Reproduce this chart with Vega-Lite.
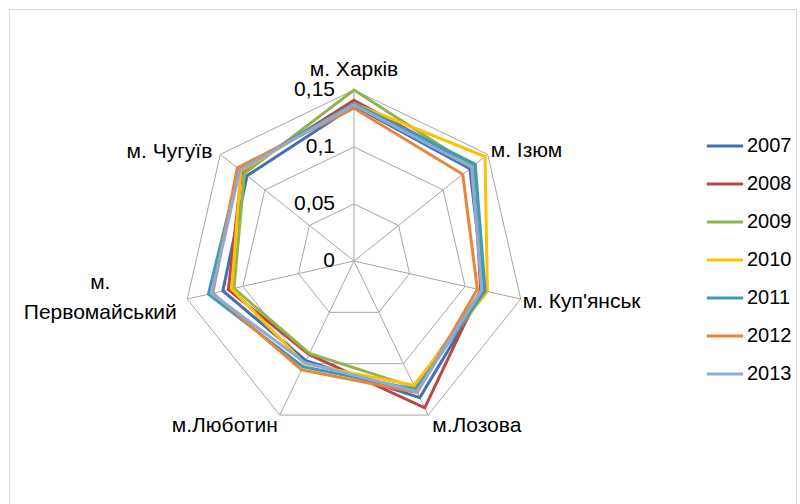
{
  "$schema": "https://vega.github.io/schema/vega-lite/v6.json",
  "width": 787,
  "height": 495,
  "padding": {"left": 9, "top": 9, "right": 4, "bottom": 0},
  "autosize": "none",
  "config": {"view": {"stroke": "#d9d9d9", "strokeWidth": 1}, "font": "Liberation Sans"},
  "datasets": {
    "axes": [
      {"idx": 0, "city": "м. Харків"},
      {"idx": 1, "city": "м. Ізюм"},
      {"idx": 2, "city": "м. Куп'янськ"},
      {"idx": 3, "city": "м.Лозова"},
      {"idx": 4, "city": "м.Люботин"},
      {"idx": 5, "city": ["м.", "Первомайський"]},
      {"idx": 6, "city": "м. Чугуїв"}
    ],
    "grid": [
      {"level": 0.05, "idx": 0}, {"level": 0.05, "idx": 1}, {"level": 0.05, "idx": 2}, {"level": 0.05, "idx": 3}, {"level": 0.05, "idx": 4}, {"level": 0.05, "idx": 5}, {"level": 0.05, "idx": 6},
      {"level": 0.1, "idx": 0}, {"level": 0.1, "idx": 1}, {"level": 0.1, "idx": 2}, {"level": 0.1, "idx": 3}, {"level": 0.1, "idx": 4}, {"level": 0.1, "idx": 5}, {"level": 0.1, "idx": 6},
      {"level": 0.15, "idx": 0}, {"level": 0.15, "idx": 1}, {"level": 0.15, "idx": 2}, {"level": 0.15, "idx": 3}, {"level": 0.15, "idx": 4}, {"level": 0.15, "idx": 5}, {"level": 0.15, "idx": 6}
    ],
    "ticks": [
      {"t": 0, "label": "0"},
      {"t": 0.05, "label": "0,05"},
      {"t": 0.1, "label": "0,1"},
      {"t": 0.15, "label": "0,15"}
    ],
    "series": [
      {"year": "2007", "idx": 0, "v": 0.136}, {"year": "2007", "idx": 1, "v": 0.130}, {"year": "2007", "idx": 2, "v": 0.117}, {"year": "2007", "idx": 3, "v": 0.133}, {"year": "2007", "idx": 4, "v": 0.097}, {"year": "2007", "idx": 5, "v": 0.118}, {"year": "2007", "idx": 6, "v": 0.120},
      {"year": "2008", "idx": 0, "v": 0.141}, {"year": "2008", "idx": 1, "v": 0.134}, {"year": "2008", "idx": 2, "v": 0.114}, {"year": "2008", "idx": 3, "v": 0.143}, {"year": "2008", "idx": 4, "v": 0.091}, {"year": "2008", "idx": 5, "v": 0.113}, {"year": "2008", "idx": 6, "v": 0.126},
      {"year": "2009", "idx": 0, "v": 0.150}, {"year": "2009", "idx": 1, "v": 0.133}, {"year": "2009", "idx": 2, "v": 0.115}, {"year": "2009", "idx": 3, "v": 0.123}, {"year": "2009", "idx": 4, "v": 0.090}, {"year": "2009", "idx": 5, "v": 0.108}, {"year": "2009", "idx": 6, "v": 0.123},
      {"year": "2010", "idx": 0, "v": 0.138}, {"year": "2010", "idx": 1, "v": 0.147}, {"year": "2010", "idx": 2, "v": 0.120}, {"year": "2010", "idx": 3, "v": 0.121}, {"year": "2010", "idx": 4, "v": 0.100}, {"year": "2010", "idx": 5, "v": 0.110}, {"year": "2010", "idx": 6, "v": 0.127},
      {"year": "2011", "idx": 0, "v": 0.138}, {"year": "2011", "idx": 1, "v": 0.136}, {"year": "2011", "idx": 2, "v": 0.118}, {"year": "2011", "idx": 3, "v": 0.125}, {"year": "2011", "idx": 4, "v": 0.103}, {"year": "2011", "idx": 5, "v": 0.131}, {"year": "2011", "idx": 6, "v": 0.129},
      {"year": "2012", "idx": 0, "v": 0.134}, {"year": "2012", "idx": 1, "v": 0.122}, {"year": "2012", "idx": 2, "v": 0.111}, {"year": "2012", "idx": 3, "v": 0.128}, {"year": "2012", "idx": 4, "v": 0.106}, {"year": "2012", "idx": 5, "v": 0.127}, {"year": "2012", "idx": 6, "v": 0.131},
      {"year": "2013", "idx": 0, "v": 0.137}, {"year": "2013", "idx": 1, "v": 0.132}, {"year": "2013", "idx": 2, "v": 0.115}, {"year": "2013", "idx": 3, "v": 0.127}, {"year": "2013", "idx": 4, "v": 0.099}, {"year": "2013", "idx": 5, "v": 0.128}, {"year": "2013", "idx": 6, "v": 0.128}
    ]
  },
  "layer": [
    {
      "data": {"name": "grid"},
      "transform": [
        {"calculate": "datum.level * sin(datum.idx * 2 * PI / 7)", "as": "x"},
        {"calculate": "datum.level * cos(datum.idx * 2 * PI / 7)", "as": "y"}
      ],
      "mark": {"type": "line", "interpolate": "linear-closed", "stroke": "#a6a6a6", "strokeWidth": 1},
      "encoding": {
        "x": {"field": "x", "type": "quantitative", "scale": {"domain": [-0.30263, 0.38772], "nice": false, "zero": false}, "axis": null},
        "y": {"field": "y", "type": "quantitative", "scale": {"domain": [-0.21316, 0.22105], "nice": false, "zero": false}, "axis": null},
        "detail": {"field": "level", "type": "nominal"},
        "order": {"field": "idx", "type": "quantitative"}
      }
    },
    {
      "data": {"name": "axes"},
      "transform": [
        {"calculate": "0.15 * sin(datum.idx * 2 * PI / 7)", "as": "x"},
        {"calculate": "0.15 * cos(datum.idx * 2 * PI / 7)", "as": "y"}
      ],
      "mark": {"type": "rule", "stroke": "#a6a6a6", "strokeWidth": 1},
      "encoding": {
        "x": {"field": "x", "type": "quantitative"},
        "y": {"field": "y", "type": "quantitative"},
        "x2": {"datum": 0},
        "y2": {"datum": 0}
      }
    },
    {
      "data": {"name": "series"},
      "transform": [
        {"calculate": "datum.v * sin(datum.idx * 2 * PI / 7)", "as": "x"},
        {"calculate": "datum.v * cos(datum.idx * 2 * PI / 7)", "as": "y"}
      ],
      "mark": {"type": "line", "interpolate": "linear-closed", "strokeWidth": 3},
      "encoding": {
        "x": {"field": "x", "type": "quantitative"},
        "y": {"field": "y", "type": "quantitative"},
        "order": {"field": "idx", "type": "quantitative"},
        "color": {
          "field": "year", "type": "nominal",
          "scale": {"domain": ["2007", "2008", "2009", "2010", "2011", "2012", "2013"], "range": ["#4170b3", "#bc4643", "#8fb44f", "#ffc000", "#3e9cb6", "#e9843a", "#8eaadb"]},
          "legend": {"title": null, "orient": "none", "legendX": 696, "legendY": 117, "symbolType": "stroke", "symbolSize": 1320, "symbolStrokeWidth": 3, "labelFontSize": 20, "labelColor": "#000000", "labelOffset": 2, "rowPadding": 8, "padding": 0, "labelFont": "Liberation Sans"}
        }
      }
    },
    {
      "data": {"name": "ticks"},
      "mark": {"type": "text", "align": "right", "baseline": "middle", "dx": -19, "fontSize": 21, "color": "#000000"},
      "encoding": {
        "x": {"datum": 0, "type": "quantitative"},
        "y": {"field": "t", "type": "quantitative"},
        "text": {"field": "label"}
      }
    },
    {
      "data": {"name": "axes"},
      "transform": [
        {"filter": "datum.idx == 0"},
        {"calculate": "0.15 * sin(datum.idx * 2 * PI / 7)", "as": "x"},
        {"calculate": "0.15 * cos(datum.idx * 2 * PI / 7)", "as": "y"}
      ],
      "mark": {"type": "text", "align": "center", "baseline": "bottom", "dy": -10, "fontSize": 21, "color": "#000000"},
      "encoding": {"x": {"field": "x", "type": "quantitative"}, "y": {"field": "y", "type": "quantitative"}, "text": {"field": "city"}}
    },
    {
      "data": {"name": "axes"},
      "transform": [
        {"filter": "datum.idx == 1"},
        {"calculate": "0.15 * sin(datum.idx * 2 * PI / 7)", "as": "x"},
        {"calculate": "0.15 * cos(datum.idx * 2 * PI / 7)", "as": "y"}
      ],
      "mark": {"type": "text", "align": "left", "baseline": "middle", "dx": 3, "dy": -3, "fontSize": 21, "color": "#000000"},
      "encoding": {"x": {"field": "x", "type": "quantitative"}, "y": {"field": "y", "type": "quantitative"}, "text": {"field": "city"}}
    },
    {
      "data": {"name": "axes"},
      "transform": [
        {"filter": "datum.idx == 2"},
        {"calculate": "0.15 * sin(datum.idx * 2 * PI / 7)", "as": "x"},
        {"calculate": "0.15 * cos(datum.idx * 2 * PI / 7)", "as": "y"}
      ],
      "mark": {"type": "text", "align": "left", "baseline": "middle", "dx": 2, "dy": 3, "fontSize": 21, "color": "#000000"},
      "encoding": {"x": {"field": "x", "type": "quantitative"}, "y": {"field": "y", "type": "quantitative"}, "text": {"field": "city"}}
    },
    {
      "data": {"name": "axes"},
      "transform": [
        {"filter": "datum.idx == 3"},
        {"calculate": "0.15 * sin(datum.idx * 2 * PI / 7)", "as": "x"},
        {"calculate": "0.15 * cos(datum.idx * 2 * PI / 7)", "as": "y"}
      ],
      "mark": {"type": "text", "align": "left", "baseline": "top", "dx": 4, "dy": 0, "fontSize": 21, "color": "#000000"},
      "encoding": {"x": {"field": "x", "type": "quantitative"}, "y": {"field": "y", "type": "quantitative"}, "text": {"field": "city"}}
    },
    {
      "data": {"name": "axes"},
      "transform": [
        {"filter": "datum.idx == 4"},
        {"calculate": "0.15 * sin(datum.idx * 2 * PI / 7)", "as": "x"},
        {"calculate": "0.15 * cos(datum.idx * 2 * PI / 7)", "as": "y"}
      ],
      "mark": {"type": "text", "align": "right", "baseline": "top", "dx": -2, "dy": 0, "fontSize": 21, "color": "#000000"},
      "encoding": {"x": {"field": "x", "type": "quantitative"}, "y": {"field": "y", "type": "quantitative"}, "text": {"field": "city"}}
    },
    {
      "data": {"name": "axes"},
      "transform": [
        {"filter": "datum.idx == 5"},
        {"calculate": "0.15 * sin(datum.idx * 2 * PI / 7)", "as": "x"},
        {"calculate": "0.15 * cos(datum.idx * 2 * PI / 7)", "as": "y"}
      ],
      "mark": {"type": "text", "align": "center", "baseline": "middle", "dx": -87, "dy": -16, "lineHeight": 30, "fontSize": 21, "color": "#000000"},
      "encoding": {"x": {"field": "x", "type": "quantitative"}, "y": {"field": "y", "type": "quantitative"}, "text": {"field": "city"}}
    },
    {
      "data": {"name": "axes"},
      "transform": [
        {"filter": "datum.idx == 6"},
        {"calculate": "0.15 * sin(datum.idx * 2 * PI / 7)", "as": "x"},
        {"calculate": "0.15 * cos(datum.idx * 2 * PI / 7)", "as": "y"}
      ],
      "mark": {"type": "text", "align": "right", "baseline": "middle", "dx": -8, "dy": -2, "fontSize": 21, "color": "#000000"},
      "encoding": {"x": {"field": "x", "type": "quantitative"}, "y": {"field": "y", "type": "quantitative"}, "text": {"field": "city"}}
    }
  ]
}
